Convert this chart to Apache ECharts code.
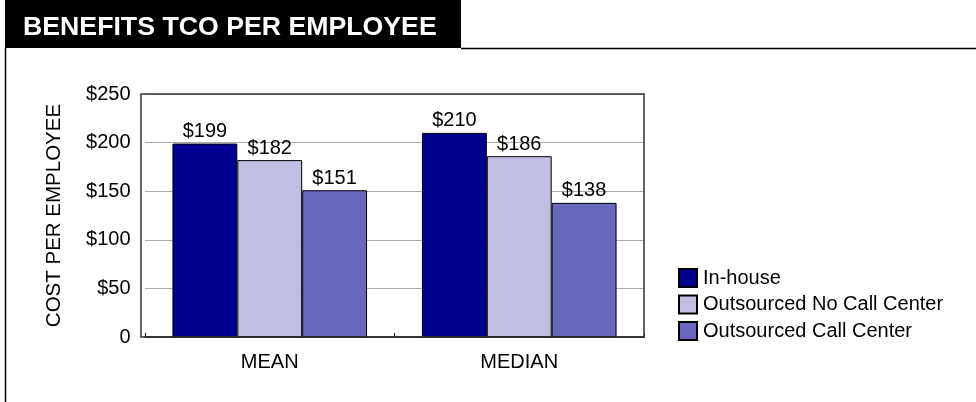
<!DOCTYPE html>
<html><head><meta charset="utf-8">
<script src="https://cdn.jsdelivr.net/npm/echarts@6/dist/echarts.min.js"></script>
<style>html,body{margin:0;padding:0;background:#fff}#c{width:976px;height:402px}</style>
</head><body><div id="c"></div>
<script>
const categories = ['MEAN', 'MEDIAN'];
const seriesNames = ['In-house', 'Outsourced No Call Center', 'Outsourced Call Center'];
const inHouse = [199, 210];
const outsourcedNoCC = [182, 186];
const outsourcedCC = [151, 138];
const colors = ['#000090', '#BFBFE1', '#6767BD'];
const yTicks = [0, 50, 100, 150, 200, 250];

const chart = echarts.init(document.getElementById('c'), null, {renderer: 'canvas'});
const font = 'Liberation Sans, Arial, sans-serif';
const values = [inHouse, outsourcedNoCC, outsourcedCC];
chart.setOption({
  animation: false,
  textStyle: {fontFamily: font},
  graphic: [
    {type: 'rect', shape: {x: 5, y: 0, width: 456, height: 48}, style: {fill: '#000'}},
    {type: 'text', left: 23, top: 14, style: {text: 'BENEFITS TCO PER EMPLOYEE', fill: '#fff', font: 'bold 26.7px ' + font}},
    {type: 'line', shape: {x1: 461, y1: 48.5, x2: 976, y2: 48.5}, style: {stroke: '#000', lineWidth: 1.5}},
    {type: 'line', shape: {x1: 5.5, y1: 48, x2: 5.5, y2: 402}, style: {stroke: '#000', lineWidth: 1.5}},
    {type: 'rect', z: 10, shape: {x: 141, y: 94, width: 503, height: 243}, style: {fill: 'none', stroke: '#333', lineWidth: 1.5}}
  ],
  grid: {left: 145, top: 94, width: 499, height: 243, containLabel: false, show: false},
  legend: {
    orient: 'vertical', left: 673, top: 263, itemWidth: 18, itemHeight: 18, itemGap: 6.5,
    icon: 'rect',
    textStyle: {fontSize: 20, color: '#000', fontFamily: font, padding: [0, 0, 0, 1]},
    data: seriesNames
  },
  xAxis: {
    type: 'category', data: categories,
    axisLine: {lineStyle: {color: '#000', width: 1.5}},
    axisTick: {show: true, inside: true, length: 4, lineStyle: {color: '#000'}},
    axisLabel: {fontSize: 20, color: '#000', margin: 15, fontFamily: font}
  },
  yAxis: {
    type: 'value', min: 0, max: 250, interval: 50,
    name: 'COST PER EMPLOYEE', nameLocation: 'middle', nameGap: 80, nameRotate: 90,
    nameTextStyle: {fontSize: 20.5, color: '#000', fontFamily: font},
    axisLine: {show: false},
    axisTick: {show: false},
    splitLine: {lineStyle: {color: '#aaa', width: 1}},
    axisLabel: {fontSize: 20, color: '#000', margin: 14.5, fontFamily: font,
      formatter: v => v === 0 ? '0' : '$' + v}
  },
  series: seriesNames.map((n, i) => ({
    name: n, type: 'bar', data: values[i],
    barGap: '0%', barCategoryGap: '22%',
    itemStyle: {color: colors[i], borderColor: '#000', borderWidth: 1},
    label: {show: true, position: 'top', distance: 2, fontSize: 20, color: '#000', fontFamily: font,
      formatter: p => '$' + p.value}
  }))
});
</script></body></html>
